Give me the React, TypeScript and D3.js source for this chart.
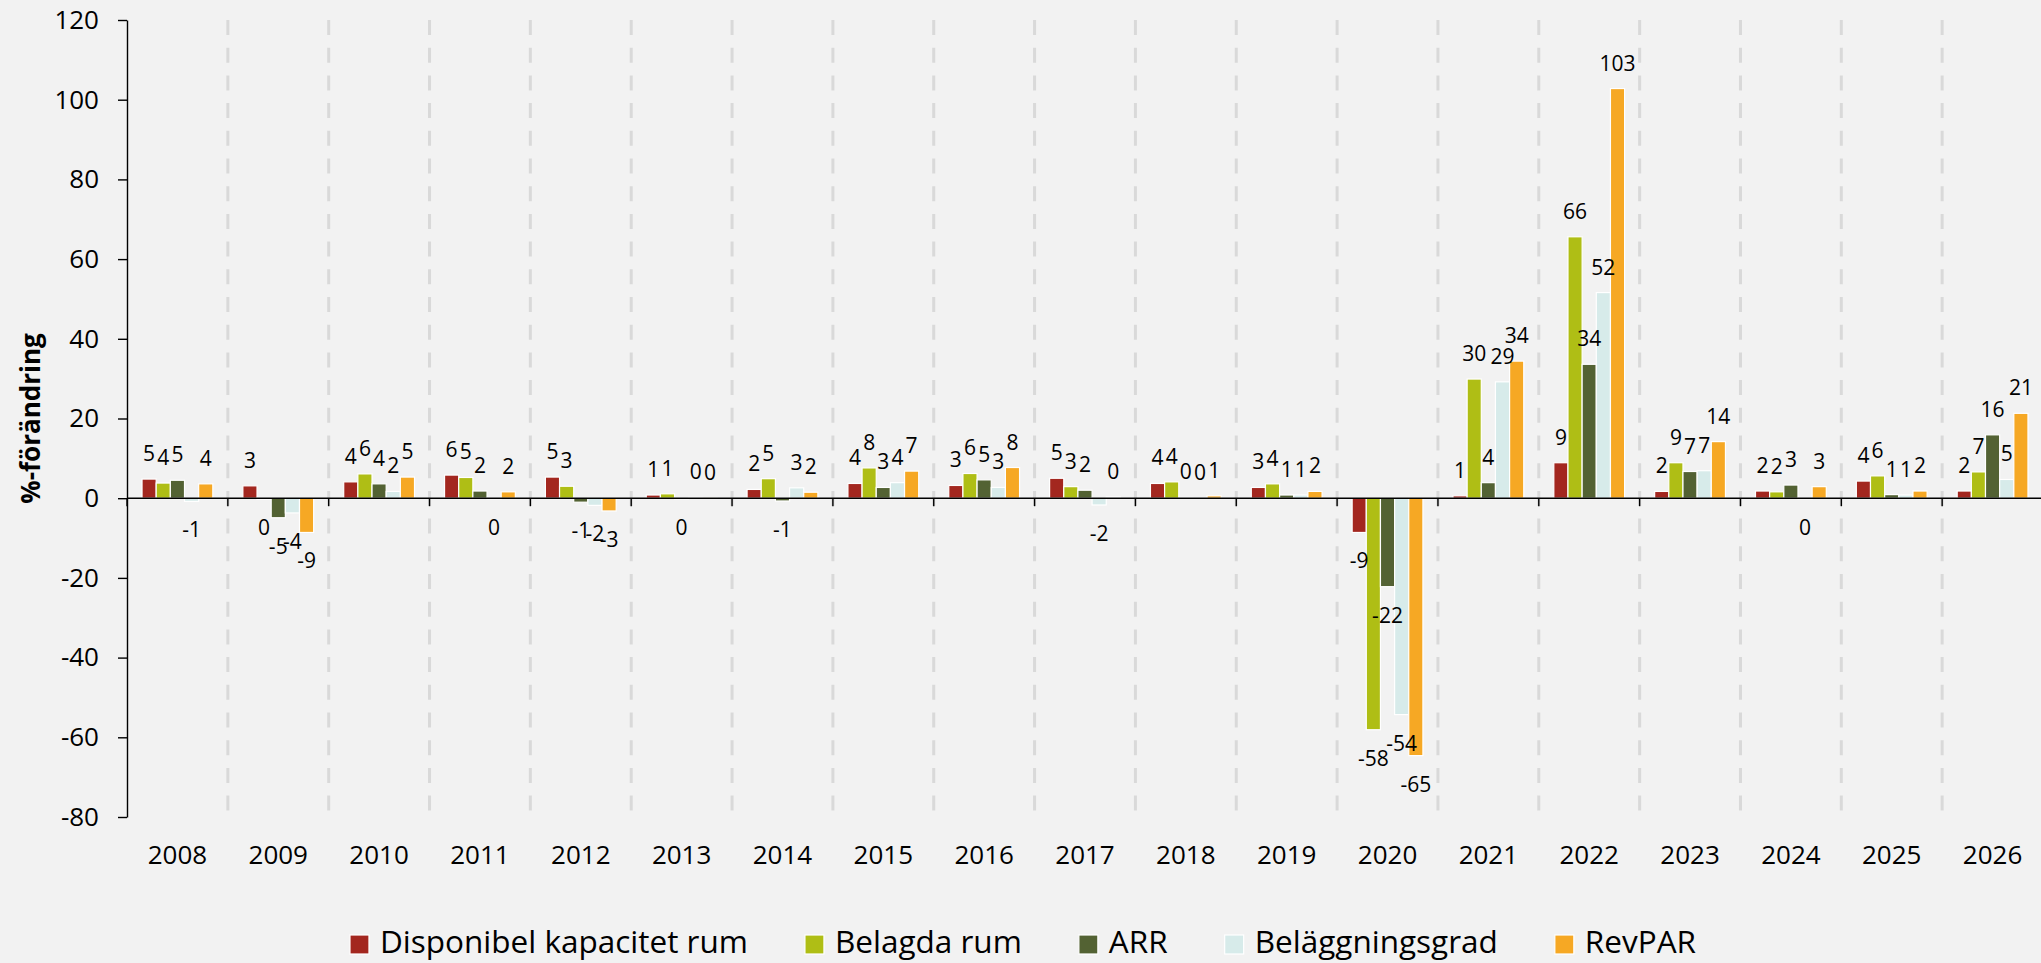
import React, { useEffect, useRef } from "react"
import * as d3 from "d3"

const years = [
  "2008", "2009", "2010", "2011", "2012", "2013", "2014", "2015", "2016", "2017",
  "2018", "2019", "2020", "2021", "2022", "2023", "2024", "2025", "2026",
]

const seriesNames = ["Disponibel kapacitet rum", "Belagda rum", "ARR", "Beläggningsgrad", "RevPAR"]
const seriesColors = ["#a3271f", "#afbe15", "#536233", "#d7ebea", "#f6a824"]

const disponibel = [4.8, 3.1, 4.1, 5.8, 5.3, 0.8, 2.2, 3.7, 3.2, 5.0, 3.7, 2.7, -8.6, 0.6, 8.9, 1.7, 1.8, 4.3, 1.8]
const belagda = [3.8, -0.3, 6.1, 5.2, 3.0, 1.1, 4.9, 7.6, 6.2, 2.9, 4.1, 3.6, -58.1, 29.9, 65.6, 8.9, 1.6, 5.6, 6.6]
const arr = [4.5, -4.9, 3.6, 1.8, -1.0, -0.2, -0.7, 2.7, 4.6, 2.0, 0.2, 0.8, -22.2, 3.9, 33.6, 6.7, 3.3, 0.9, 15.9]
const belaggningsgrad = [-0.8, -3.7, 1.7, -0.2, -1.8, 0.2, 2.6, 3.9, 2.7, -1.7, 0.1, 0.8, -54.3, 29.2, 51.6, 6.9, -0.2, 0.8, 4.7]
const revpar = [3.6, -8.6, 5.3, 1.6, -3.2, 0.1, 1.5, 6.8, 7.7, 0.3, 0.6, 1.7, -64.6, 34.4, 102.8, 14.2, 2.9, 1.8, 21.3]

const yTicks = [-80, -60, -40, -20, 0, 20, 40, 60, 80, 100, 120]
const yTitle = "%-förändring"

const seriesValues = [disponibel, belagda, arr, belaggningsgrad, revpar]

const FONT = "'Open Sans', sans-serif"

export default function App() {
  const svgRef = useRef<SVGSVGElement>(null)

  useEffect(() => {
    const width = 2041
    const height = 963
    const margin = { top: 20, right: -2, bottom: 146, left: 127 }

    const svg = d3.select(svgRef.current)
    svg.selectAll("*").remove()
    svg.attr("width", width).attr("height", height)

    svg.append("rect").attr("width", width).attr("height", height).attr("fill", "#f2f2f2")

    const x0 = d3
      .scaleBand()
      .domain(years)
      .range([margin.left, width - margin.right])
      .padding(0)
    const bw = x0.bandwidth()
    const x1 = d3
      .scaleBand()
      .domain(seriesNames)
      .range([bw * 0.149, bw * 0.851])
      .padding(0)

    const y = d3
      .scaleLinear()
      .domain([-80, 120])
      .range([height - margin.bottom, margin.top])

    // dashed separators between years
    const bounds = years.slice(1).map((yr) => x0(yr) as number).concat([x0.range()[1]])
    svg
      .append("g")
      .selectAll("line")
      .data(bounds)
      .enter()
      .append("line")
      .attr("x1", (d) => d)
      .attr("x2", (d) => d)
      .attr("y1", y(120))
      .attr("y2", y(-80))
      .attr("stroke", "#d9d9d9")
      .attr("stroke-width", 3)
      .attr("stroke-dasharray", "15,12.7")

    // bars
    const rows = years.map((yr, i) => ({
      year: yr,
      values: seriesNames.map((s, j) => ({ key: s, color: seriesColors[j], value: seriesValues[j][i] })),
    }))

    const groups = svg
      .append("g")
      .selectAll("g")
      .data(rows)
      .enter()
      .append("g")
      .attr("transform", (d) => `translate(${x0(d.year)},0)`)

    groups
      .selectAll("rect")
      .data((d) => d.values)
      .enter()
      .append("rect")
      .attr("x", (d) => x1(d.key) as number)
      .attr("width", x1.bandwidth())
      .attr("y", (d) => y(Math.max(0, d.value)))
      .attr("height", (d) => Math.abs(y(d.value) - y(0)))
      .attr("fill", (d) => d.color)
      .attr("stroke", "#ffffff")
      .attr("stroke-width", 1.2)

    // x axis line at zero with ticks at the boundaries
    const xAxis = svg.append("g")
    xAxis
      .append("line")
      .attr("x1", margin.left)
      .attr("x2", width)
      .attr("y1", y(0))
      .attr("y2", y(0))
      .attr("stroke", "#000")
      .attr("stroke-width", 1.4)
    xAxis
      .selectAll("line.tick")
      .data([margin.left].concat(bounds))
      .enter()
      .append("line")
      .attr("class", "tick")
      .attr("x1", (d) => d)
      .attr("x2", (d) => d)
      .attr("y1", y(0))
      .attr("y2", y(0) + 8)
      .attr("stroke", "#000")
      .attr("stroke-width", 1.4)

    // value labels
    groups
      .selectAll("text")
      .data((d) => d.values)
      .enter()
      .append("text")
      .attr("x", (d) => (x1(d.key) as number) + x1.bandwidth() / 2)
      .attr("y", (d) => (d.value >= 0 ? y(d.value) - 18 : y(d.value) + 36))
      .attr("text-anchor", "middle")
      .attr("font-family", FONT)
      .attr("font-size", 21)
      .attr("fill", "#000")
      .text((d) => String(Math.round(d.value) || 0))

    // y axis
    const yAxis = svg
      .append("g")
      .attr("transform", `translate(${margin.left},0)`)
      .call(
        d3
          .axisLeft(y)
          .tickValues(yTicks)
          .tickSize(9)
          .tickSizeOuter(0)
          .tickPadding(19)
          .tickFormat((d) => String(d)),
      )
    yAxis.select(".domain").attr("stroke", "#000").attr("stroke-width", 1.4)
    yAxis.selectAll(".tick line").attr("stroke", "#000").attr("stroke-width", 1.4)
    yAxis
      .selectAll(".tick text")
      .attr("font-family", FONT)
      .attr("font-size", 26)
      .attr("fill", "#000")

    // year labels
    svg
      .append("g")
      .selectAll("text")
      .data(years)
      .enter()
      .append("text")
      .attr("x", (d) => (x0(d) as number) + bw / 2)
      .attr("y", 864)
      .attr("text-anchor", "middle")
      .attr("font-family", FONT)
      .attr("font-size", 26)
      .attr("fill", "#000")
      .text((d) => d)

    // y title
    svg
      .append("text")
      .attr("transform", `translate(40,${(y(120) + y(-80)) / 2}) rotate(-90)`)
      .attr("text-anchor", "middle")
      .attr("font-family", FONT)
      .attr("font-size", 26)
      .attr("font-weight", "bold")
      .attr("fill", "#000")
      .text(yTitle)

    // legend, centred on the page
    const legend = svg.append("g")
    const items = legend
      .selectAll("g")
      .data(seriesNames)
      .enter()
      .append("g")
    items
      .append("rect")
      .attr("x", 0)
      .attr("y", 935)
      .attr("width", 19)
      .attr("height", 19)
      .attr("fill", (_, i) => seriesColors[i])
      .attr("stroke", "#fff")
      .attr("stroke-width", 1.2)
    items
      .append("text")
      .attr("x", 30)
      .attr("y", 953)
      .attr("font-family", FONT)
      .attr("font-size", 31.5)
      .attr("fill", "#000")
      .text((d) => d)

    const gap = 57
    let cursor = 0
    const offsets: number[] = []
    items.each(function () {
      const t = d3.select(this).select("text").node() as SVGTextElement
      offsets.push(cursor)
      cursor += 30 + t.getComputedTextLength() + gap
    })
    const total = cursor - gap
    const start = 1023 - total / 2
    items.attr("transform", (_, i) => `translate(${start + offsets[i]},0)`)
  }, [])

  return <svg ref={svgRef} style={{ position: "absolute", left: 0, top: 0, display: "block" }}></svg>
}
